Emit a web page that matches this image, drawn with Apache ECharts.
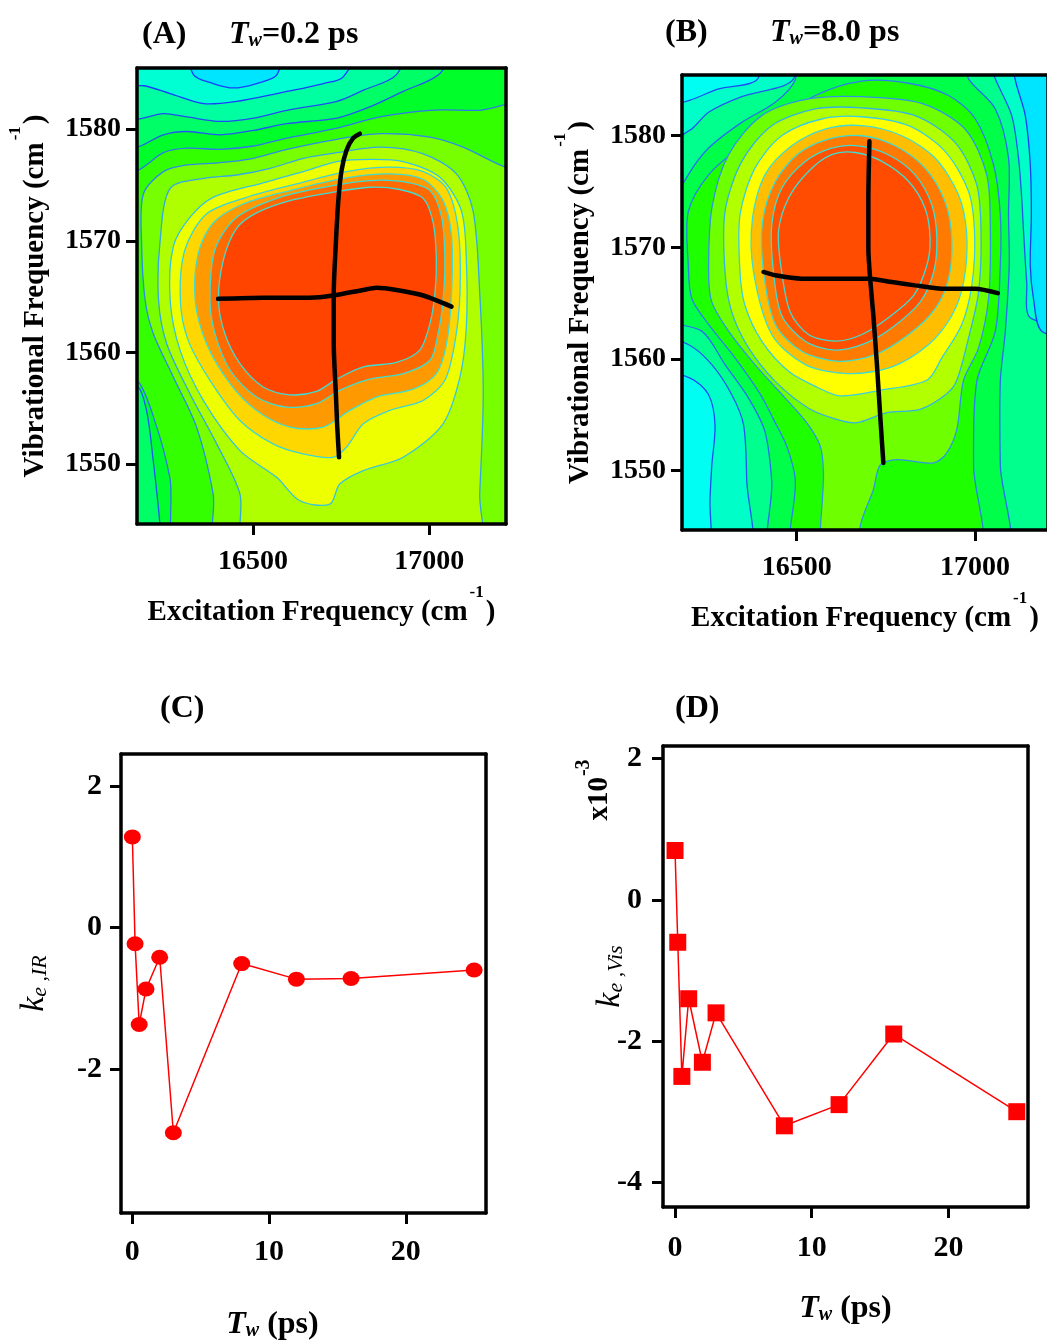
<!DOCTYPE html>
<html><head><meta charset="utf-8">
<script src="https://cdn.jsdelivr.net/npm/echarts@6/dist/echarts.min.js"></script>
<style>html,body{margin:0;padding:0;background:#fff}#c{width:1047px;height:1340px}</style>
</head><body><div id="c"></div>
<script>
// ---------------- data ----------------
const tw = [0, 0.2, 0.5, 1, 2, 3, 8, 12, 16, 25];
const keIR = [1.28, -0.23, -1.37, -0.87, -0.42, -2.9, -0.51, -0.73, -0.72, -0.6];
const keVis = [0.7, -0.6, -2.5, -1.4, -2.3, -1.6, -3.2, -2.9, -1.9, -3.0];
const ticksExc = [16500, 17000];
const ticksVib = [1550, 1560, 1570, 1580];
const ticksTw = [0, 10, 20];
const ticksKeIR = [-2, 0, 2];
const ticksKeVis = [-4, -2, 0, 2];

// center lines (excitation, vibrational)
const A_lineH = [[16401,1564.8],[16529,1564.9],[16661,1564.9],[16727,1565.1],[16813,1565.6],[16850,1565.8],[16907,1565.6],[16983,1565.1],[17063,1564.1]];
const A_lineV = [[16803,1579.6],[16784,1579.2],[16765,1578.1],[16751,1576.3],[16742,1573.6],[16735,1569.8],[16729,1565.3],[16729,1560.8],[16735,1556.3],[16739,1553.3],[16744,1550.6]];
const B_lineH = [[16407,1567.8],[16440,1567.5],[16514,1567.2],[16627,1567.2],[16701,1567.2],[16767,1566.9],[16832,1566.6],[16907,1566.3],[17001,1566.3],[17064,1565.9]];
const B_lineV = [[16704,1579.5],[16701,1574.4],[16701,1569.9],[16706,1567.2],[16715,1563.9],[16725,1559.5],[16734,1555.0],[16743,1550.7]];

// contour regions, panel A (Tw = 0.2 ps)
const A_le3 = [[16104,1587.7],[16104,1578.3],[16172,1578.4],[16246,1579.5],[16313,1579.8],[16407,1579.5],[16502,1579.9],[16596,1580.5],[16738,1581.0],[16831,1582.0],[16926,1583.4],[17030,1585.0],[17058,1587.7]];
const A_le3b = [[16104,1557.5],[16172,1557.0],[16198,1554.8],[16217,1550.3],[16236,1544.6],[16241,1541.4],[16104,1541.4]];
const A_le2 = [[16104,1587.7],[16104,1580.9],[16172,1580.9],[16246,1581.4],[16313,1581.1],[16407,1580.7],[16502,1581.0],[16596,1581.7],[16738,1582.5],[16813,1583.5],[16907,1584.9],[16926,1587.7]];
const A_le1 = [[16104,1587.7],[16104,1583.9],[16190,1583.9],[16265,1583.2],[16360,1582.3],[16454,1582.5],[16568,1583.2],[16700,1584.1],[16756,1584.7],[16794,1587.7]];
const A_le0 = [[16321,1587.7],[16331,1584.9],[16387,1584.1],[16445,1583.7],[16510,1584.1],[16568,1584.9],[16576,1587.7]];
const A_ge5 = [[16104,1576.3],[16172,1576.3],[16246,1577.9],[16313,1578.3],[16407,1578.2],[16502,1578.5],[16596,1579.2],[16738,1580.1],[16860,1581.1],[17002,1581.7],[17143,1581.7],[17285,1582.0],[17285,1541.4],[16302,1541.4],[16264,1548.8],[16227,1553.3],[16172,1557.5],[16104,1557.8]];
const A_ge6 = [[16189,1574.2],[16246,1576.2],[16313,1576.8],[16407,1577.0],[16502,1577.4],[16596,1578.2],[16738,1579.1],[16860,1579.6],[17002,1579.3],[17096,1578.4],[17216,1576.6],[17285,1576.3],[17285,1541.4],[16406,1541.4],[16387,1547.3],[16340,1553.3],[16274,1557.8],[16217,1561.7],[16194,1564.7],[16184,1569.8]];
const A_ge7 = [[16265,1574.7],[16360,1575.6],[16454,1575.9],[16549,1576.5],[16643,1577.4],[16738,1577.9],[16860,1578.4],[16983,1577.8],[17077,1576.0],[17124,1572.7],[17143,1565.3],[17153,1556.3],[17143,1547.3],[17134,1541.4],[16482,1541.4],[16463,1547.3],[16397,1551.8],[16321,1556.3],[16255,1560.8],[16232,1564.7],[16236,1569.8]];
const A_ge8 = [[16274,1569.5],[16321,1572.1],[16387,1573.9],[16529,1575.2],[16643,1576.2],[16738,1577.1],[16831,1577.3],[16926,1577.1],[17030,1575.7],[17091,1572.7],[17105,1568.3],[17105,1562.3],[17087,1557.8],[17039,1553.6],[16926,1550.6],[16813,1549.4],[16746,1548.2],[16718,1546.4],[16633,1546.7],[16567,1548.8],[16463,1551.2],[16359,1555.7],[16293,1560.2],[16265,1564.7]];
const A_ge9 = [[16294,1564.7],[16307,1569.2],[16368,1572.4],[16482,1573.9],[16624,1575.1],[16765,1576.2],[16888,1576.6],[16983,1576.2],[17049,1574.7],[17082,1571.0],[17087,1565.3],[17072,1560.8],[17044,1557.5],[16983,1555.7],[16888,1554.8],[16813,1553.6],[16765,1551.5],[16727,1550.6],[16642,1550.9],[16557,1551.8],[16463,1553.9],[16378,1557.5],[16316,1561.1]];
const A_ge10 = [[16336,1564.7],[16345,1568.9],[16387,1571.6],[16472,1573.3],[16605,1574.5],[16756,1575.6],[16888,1576.0],[16983,1575.5],[17039,1573.6],[17063,1570.4],[17063,1565.3],[17049,1560.8],[17020,1558.1],[16954,1556.7],[16850,1556.0],[16775,1554.8],[16699,1553.3],[16605,1553.3],[16510,1554.8],[16435,1557.2],[16368,1560.8]];
const A_ge11 = [[16378,1564.7],[16392,1569.2],[16453,1572.1],[16576,1573.9],[16718,1574.9],[16831,1575.4],[16926,1575.3],[17002,1574.5],[17035,1572.1],[17044,1568.3],[17039,1564.7],[17025,1561.7],[17002,1559.3],[16926,1558.1],[16831,1557.6],[16746,1556.6],[16680,1555.4],[16595,1555.1],[16510,1556.0],[16435,1558.4],[16392,1561.7]];
const A_ge12 = [[16402,1564.7],[16416,1568.3],[16453,1571.1],[16510,1572.5],[16605,1573.6],[16718,1574.3],[16831,1574.8],[16916,1574.6],[16983,1573.8],[17011,1571.6],[17020,1568.3],[17016,1565.3],[17002,1562.6],[16973,1560.2],[16907,1559.1],[16813,1558.7],[16737,1557.6],[16680,1556.5],[16605,1556.2],[16529,1556.9],[16463,1559.0],[16420,1561.7]];

// contour regions, panel B (Tw = 8.0 ps)
const B_le2tl = [[16112,1587.8],[16496,1587.8],[16486,1584.9],[16346,1583.5],[16253,1582.1],[16201,1580.5],[16112,1579.4]];
const B_le1tl = [[16112,1587.8],[16393,1587.8],[16388,1585.0],[16281,1584.2],[16201,1583.2],[16112,1582.7]];
const B_le2bl = [[16112,1561.9],[16196,1561.3],[16262,1559.5],[16318,1556.8],[16351,1554.1],[16360,1549.1],[16365,1541.6],[16112,1541.6]];
const B_le1bl = [[16112,1558.6],[16201,1558.3],[16253,1556.8],[16271,1554.1],[16262,1550.5],[16257,1547.6],[16248,1541.6],[16112,1541.6]];
const B_le2r = [[17029,1587.8],[17057,1585.1],[17103,1581.8],[17122,1578.0],[17131,1574.4],[17136,1571.5],[17145,1566.9],[17155,1563.7],[17281,1563.7],[17281,1587.8]];
const B_le0r = [[17103,1587.8],[17113,1585.0],[17141,1581.8],[17155,1577.4],[17158,1572.9],[17155,1568.4],[17164,1565.4],[17187,1562.5],[17281,1562.5],[17281,1587.8]];
const B_ge4 = [[16112,1571.4],[16196,1576.5],[16253,1578.9],[16346,1581.2],[16440,1583.0],[16496,1585.0],[16505,1587.8],[16954,1587.8],[16982,1585.1],[17057,1582.4],[17094,1578.0],[17094,1572.9],[17096,1568.4],[17085,1562.5],[17071,1558.0],[17071,1550.5],[17080,1541.6],[16440,1541.6],[16430,1549.1],[16411,1553.5],[16365,1556.5],[16299,1559.5],[16234,1562.5],[16112,1563.9]];
const B_ge5 = [[16196,1568.4],[16196,1573.2],[16253,1576.5],[16346,1579.1],[16440,1581.2],[16552,1583.6],[16683,1584.9],[16814,1584.7],[16926,1583.6],[17001,1581.5],[17052,1577.4],[17071,1572.9],[17071,1568.4],[17057,1562.5],[17005,1558.0],[16996,1550.5],[17005,1541.6],[16500,1541.6],[16496,1549.2],[16472,1552.2],[16435,1554.6],[16397,1556.9],[16327,1560.1],[16253,1563.1],[16206,1565.4]];
const B_ge6 = [[16253,1567.8],[16262,1573.5],[16309,1578.3],[16402,1581.8],[16533,1583.3],[16683,1583.5],[16851,1582.9],[16972,1580.6],[17033,1576.5],[17043,1571.4],[17038,1565.4],[17010,1561.0],[16968,1558.1],[16949,1553.7],[16921,1551.6],[16884,1550.7],[16781,1551.0],[16734,1550.5],[16715,1548.3],[16678,1545.0],[16678,1541.6],[16575,1541.6],[16575,1549.8],[16566,1552.2],[16528,1554.3],[16468,1556.5],[16383,1559.5],[16309,1562.5],[16262,1565.1]];
const B_ge7 = [[16299,1567.8],[16299,1573.2],[16346,1577.7],[16430,1580.9],[16552,1582.4],[16683,1582.5],[16832,1581.8],[16944,1579.4],[17005,1575.6],[17017,1571.1],[17010,1566.0],[16982,1561.9],[16949,1558.1],[16921,1556.9],[16846,1555.5],[16753,1555.2],[16669,1554.3],[16612,1554.6],[16533,1555.6],[16440,1558.0],[16365,1561.0],[16318,1564.2]];
const B_ge8 = [[16341,1567.8],[16341,1572.9],[16383,1577.1],[16458,1580.0],[16570,1581.5],[16683,1581.7],[16814,1580.9],[16916,1578.6],[16982,1575.0],[16999,1571.1],[16991,1566.6],[16963,1563.1],[16907,1560.1],[16865,1558.1],[16734,1557.2],[16622,1556.7],[16556,1557.5],[16477,1558.9],[16402,1561.6],[16355,1564.8]];
const B_ge9 = [[16379,1567.8],[16376,1572.6],[16411,1576.5],[16486,1579.1],[16580,1580.6],[16683,1580.9],[16795,1580.0],[16888,1578.0],[16954,1574.7],[16977,1571.1],[16968,1566.9],[16935,1563.9],[16870,1561.3],[16767,1559.3],[16645,1558.7],[16524,1559.5],[16430,1562.2]];
const B_ge10 = [[16407,1567.8],[16404,1572.3],[16440,1575.9],[16505,1578.4],[16589,1579.7],[16683,1580.0],[16776,1579.1],[16860,1577.1],[16916,1574.1],[16935,1570.8],[16926,1567.2],[16888,1564.5],[16814,1562.2],[16720,1560.4],[16617,1559.8],[16514,1560.7],[16440,1563.1]];
const B_ge11 = [[16435,1567.8],[16430,1572.0],[16458,1575.3],[16524,1577.7],[16598,1578.9],[16673,1579.1],[16757,1578.3],[16832,1576.5],[16879,1573.8],[16893,1570.8],[16884,1567.8],[16846,1565.1],[16767,1562.8],[16692,1561.4],[16608,1560.8],[16524,1561.6],[16458,1563.9]];
const B_ge12 = [[16458,1567.8],[16449,1571.4],[16477,1574.4],[16533,1576.8],[16598,1578.3],[16664,1578.5],[16739,1577.7],[16814,1575.9],[16860,1573.5],[16874,1570.8],[16865,1568.4],[16828,1565.7],[16757,1563.7],[16683,1562.2],[16608,1561.6],[16533,1562.2],[16482,1564.2]];

// ---------------- styles ----------------
const FONT = 'Liberation Serif';
const FILL_A = ['#00E5FF','#00FFD2','#00FFA0','#00FF66','#00FF2A','#33FF00','#77FF00','#B0FF00','#EEFF00','#FFD700','#FF9900','#FF6A00','#FF4400'];
const LINE_A = ['#1a3cff','#1a3cff','#1f4cf5','#2258f0','#2a66ee','#2c78ec','#2f8ae8','#33a8e4','#38c4de','#3cd4d6','#40dcd0','#40dcd0','#40dcd0'];
const FILL_B = ['#00E5FF','#00FFF2','#00FFC8','#00FF8C','#00FF48','#1EFF00','#6EFF00','#B2FF00','#FFFF00','#FFBF00','#FF7A00','#FF5000','#FF4C00'];
const LINE_B = ['#1a3cff','#1e4cf5','#2258f0','#2462ee','#2a6eec','#2c80ea','#2f96e6','#34b4e0','#3ccede','#40dad4','#40dcd0','#40dcd0','#40dcd0'];

const contourA = [
  {lv:3, pts:A_le3}, {lv:3, pts:A_le3b}, {lv:2, pts:A_le2}, {lv:1, pts:A_le1}, {lv:0, pts:A_le0},
  {lv:5, pts:A_ge5}, {lv:6, pts:A_ge6}, {lv:7, pts:A_ge7}, {lv:8, pts:A_ge8},
  {lv:9, pts:A_ge9}, {lv:10, pts:A_ge10}, {lv:11, pts:A_ge11}, {lv:12, pts:A_ge12}
];
const contourB = [
  {lv:2, pts:B_le2tl}, {lv:1, pts:B_le1tl}, {lv:2, pts:B_le2bl}, {lv:1, pts:B_le1bl},
  {lv:2, pts:B_le2r}, {lv:0, pts:B_le0r},
  {lv:4, pts:B_ge4}, {lv:5, pts:B_ge5}, {lv:6, pts:B_ge6}, {lv:7, pts:B_ge7}, {lv:8, pts:B_ge8},
  {lv:9, pts:B_ge9}, {lv:10, pts:B_ge10}, {lv:11, pts:B_ge11}, {lv:12, pts:B_ge12}
];

function contourSeries(polys, fills, strokes, idx) {
  return {
    type: 'custom', xAxisIndex: idx, yAxisIndex: idx, silent: true, clip: true, z: 1,
    data: polys.map((p, i) => [p.pts[0][0], p.pts[0][1], i]),
    encode: {x: 0, y: 1},
    renderItem: function (params, api) {
      const p = polys[params.dataIndex];
      const cs = params.coordSys;
      return {
        type: 'group',
        clipPath: {type: 'rect', shape: {x: cs.x, y: cs.y, width: cs.width, height: cs.height}},
        children: [{
          type: 'polygon',
          shape: {points: p.pts.map(q => api.coord(q)), smooth: 0.3},
          style: {fill: fills[p.lv], stroke: strokes[p.lv], lineWidth: 1.3}
        }]
      };
    }
  };
}

const bold = {fontFamily: FONT, fontWeight: 'bold', color: '#000'};
const nameRich = {
  m: Object.assign({fontSize: 29, lineHeight: 30, verticalAlign: 'bottom'}, bold),
  s: Object.assign({fontSize: 17, lineHeight: 17, verticalAlign: 'bottom', padding: [0, 2, 26, 2]}, bold)
};
const twRich = (size) => ({
  t: Object.assign({fontSize: size, lineHeight: size + 2, fontStyle: 'italic', verticalAlign: 'bottom'}, bold),
  w: Object.assign({fontSize: Math.round(size * 0.62), lineHeight: Math.round(size * 0.45), fontStyle: 'italic', verticalAlign: 'bottom'}, bold),
  p: Object.assign({fontSize: size, lineHeight: size + 2, verticalAlign: 'bottom'}, bold)
});
const keRich = {
  k: {fontFamily: FONT, fontStyle: 'italic', fontSize: 34, lineHeight: 34, color: '#000', verticalAlign: 'bottom'},
  e: {fontFamily: FONT, fontStyle: 'italic', fontSize: 22, lineHeight: 18, color: '#000', verticalAlign: 'bottom'}
};

function frameAxes(g, xmin, xmax, ymin, ymax, xTicks, yTicks, o) {
  const line = {show: true, onZero: false, lineStyle: {color: '#000', width: 3.5}};
  const tick = (vals) => ({show: true, length: 11, inside: false, customValues: vals, lineStyle: {color: '#000', width: 3}});
  const lab = (vals, margin, size) => Object.assign({customValues: vals, margin: margin, fontSize: size, formatter: v => String(v)}, bold);
  return {
    x: [
      {type: 'value', gridIndex: g, position: 'bottom', min: xmin, max: xmax, z: 10,
       axisLine: line, axisTick: tick(xTicks), axisLabel: lab(xTicks, o.xMargin, o.size), splitLine: {show: false},
       name: o.xName, nameLocation: 'middle', nameGap: o.xGap, nameMoveOverlap: false,
       nameTextStyle: {rich: o.xRich, padding: o.xPad || 0}},
      {type: 'value', gridIndex: g, position: 'top', min: xmin, max: xmax, z: 10,
       axisLine: line, axisTick: {show: false}, axisLabel: {show: false}, splitLine: {show: false}}
    ],
    y: [
      {type: 'value', gridIndex: g, position: 'left', min: ymin, max: ymax, z: 10,
       axisLine: line, axisTick: tick(yTicks), axisLabel: lab(yTicks, o.yMargin, o.size), splitLine: {show: false},
       name: o.yName, nameLocation: 'middle', nameGap: o.yGap, nameMoveOverlap: false,
       nameTextStyle: {rich: o.yRich}},
      {type: 'value', gridIndex: g, position: 'right', min: ymin, max: ymax, z: 10,
       axisLine: line, axisTick: {show: false}, axisLabel: {show: false}, splitLine: {show: false}}
    ]
  };
}

const excName = '{m|Excitation Frequency (cm}{s|-1}{m|)}';
const vibName = '{m|Vibrational Frequency (cm}{s|-1}{m|)}';
const axA = frameAxes(0, 16171, 17217.5, 1544.62, 1585.49, ticksExc, ticksVib,
  {xMargin: 24, yMargin: 16, size: 28, xName: excName, xGap: 73, xRich: nameRich, yName: vibName, yGap: 87, yRich: nameRich});
const axB = frameAxes(1, 16178.4, 17204.7, 1544.69, 1585.44, ticksExc, ticksVib,
  {xMargin: 24, yMargin: 16, size: 28, xName: excName, xGap: 73, xRich: nameRich, yName: vibName, yGap: 87, yRich: nameRich});
const axC = frameAxes(2, -0.83, 25.87, -4.035, 2.452, ticksTw, ticksKeIR,
  {xMargin: 24, yMargin: 19, size: 30, xName: '{t|T}{w|w}{p| (ps)}', xGap: 94, xRich: twRich(32), xPad: [0, 62, 0, 0],
   yName: '{k|k}{e|e ,IR}', yGap: 70, yRich: keRich});
const axD = frameAxes(3, -0.88, 25.82, -4.35, 2.18, ticksTw, ticksKeVis,
  {xMargin: 26, yMargin: 21, size: 30, xName: '{t|T}{w|w}{p| (ps)}', xGap: 84, xRich: twRich(32),
   yName: '{k|k}{e|e ,Vis}', yGap: 36, yRich: keRich});

const blackLine = (data, idx) => ({type: 'line', xAxisIndex: idx, yAxisIndex: idx, data: data, symbol: 'none',
  smooth: 0.25, z: 5, silent: true, lineStyle: {color: '#000', width: 4.5, cap: 'round'}});

const option = {
  animation: false,
  backgroundColor: '#fff',
  title: [
    {text: '(A)', left: 137, top: 14, textStyle: Object.assign({fontSize: 32}, bold)},
    {text: '{t|T}{w|w}{p|=0.2 ps}', left: 224, top: 12, textStyle: {rich: twRich(32)}},
    {text: '(B)', left: 660, top: 12, textStyle: Object.assign({fontSize: 32}, bold)},
    {text: '{t|T}{w|w}{p|=8.0 ps}', left: 765, top: 10, textStyle: {rich: twRich(32)}},
    {text: '(C)', left: 155, top: 688, textStyle: Object.assign({fontSize: 32}, bold)},
    {text: '(D)', left: 670, top: 688, textStyle: Object.assign({fontSize: 32}, bold)}
  ],
  graphic: [{
    type: 'text', x: 599, y: 790, rotation: Math.PI / 2,
    style: {text: '{m|x10}{s|-3}', align: 'center', verticalAlign: 'middle',
      rich: {m: Object.assign({fontSize: 29, lineHeight: 30, verticalAlign: 'bottom'}, bold),
             s: Object.assign({fontSize: 20, lineHeight: 20, verticalAlign: 'bottom', padding: [0, 0, 20, 1]}, bold)}}
  }],
  grid: [
    {left: 137, top: 68, width: 369, height: 456, show: true, backgroundColor: FILL_A[4], borderWidth: 0, outerBoundsMode: 'none'},
    {left: 682, top: 75, width: 366, height: 455, show: true, backgroundColor: FILL_B[3], borderWidth: 0, outerBoundsMode: 'none'},
    {left: 121, top: 754, width: 365, height: 459, outerBoundsMode: 'none'},
    {left: 663, top: 746, width: 365, height: 461, outerBoundsMode: 'none'}
  ],
  xAxis: [].concat(axA.x, axB.x, axC.x, axD.x),
  yAxis: [].concat(axA.y, axB.y, axC.y, axD.y),
  series: [
    contourSeries(contourA, FILL_A, LINE_A, 0),
    blackLine(A_lineH, 0), blackLine(A_lineV, 0),
    contourSeries(contourB, FILL_B, LINE_B, 2),
    blackLine(B_lineH, 2), blackLine(B_lineV, 2),
    {type: 'line', xAxisIndex: 4, yAxisIndex: 4, data: tw.map((t, i) => [t, keIR[i]]),
     symbol: 'circle', symbolSize: [17, 15], z: 5, itemStyle: {color: '#FF0000'}, lineStyle: {color: '#FF0000', width: 1.5}},
    {type: 'line', xAxisIndex: 6, yAxisIndex: 6, data: tw.map((t, i) => [t, keVis[i]]),
     symbol: 'rect', symbolSize: 17, z: 5, itemStyle: {color: '#FF0000'}, lineStyle: {color: '#FF0000', width: 1.5}}
  ]
};
const chart = echarts.init(document.getElementById('c'), null, {renderer: 'canvas'});
chart.setOption(option);
</script></body></html>
